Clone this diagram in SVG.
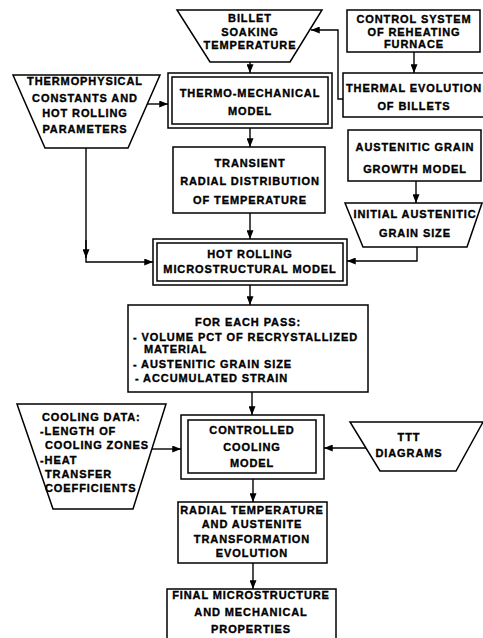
<svg xmlns="http://www.w3.org/2000/svg" width="483" height="638" viewBox="0 0 483 638">
<style>
.s{fill:#fff;stroke:#000;stroke-width:1.5}
.d{fill:none;stroke:#000;stroke-width:1.5}
.c{fill:none;stroke:#000;stroke-width:1.4}
text{font-family:"Liberation Sans",Arial,sans-serif;font-weight:bold;font-size:11px;letter-spacing:0.9px;fill:#000;stroke:#000;stroke-width:0.35}
.m{text-anchor:middle}
</style>
<defs>
<marker id="a" viewBox="0 0 10 8" refX="10" refY="4" markerWidth="10" markerHeight="7" markerUnits="userSpaceOnUse" orient="auto">
<path d="M0,0 L10,4 L0,8 Z" fill="#000"/>
</marker>
</defs>
<rect width="483" height="638" fill="#fff"/>

<g id="connectors" class="c">
<path d="M250,62 V73" marker-end="url(#a)"/>
<path d="M250,128 V147" marker-end="url(#a)"/>
<path d="M250,213 V239" marker-end="url(#a)"/>
<path d="M250,285 V305" marker-end="url(#a)"/>
<path d="M252,392 V415" marker-end="url(#a)"/>
<path d="M253,479 V502" marker-end="url(#a)"/>
<path d="M253,563 V589" marker-end="url(#a)"/>
<path d="M414,52 V73" marker-end="url(#a)"/>
<path d="M343,99 H338 V30 H311" marker-end="url(#a)"/>
<path d="M147,104 H168" marker-end="url(#a)"/>
<path d="M416,181 V203" marker-end="url(#a)"/>
<path d="M417,247 V261 H347" marker-end="url(#a)"/>
<path d="M86,148 V262 H153" marker-end="url(#a)"/>
<path d="M86,240 V258" marker-end="url(#a)"/>
<path d="M152,449 H181" marker-end="url(#a)"/>
<path d="M366,448 H324" marker-end="url(#a)"/>
</g>

<g id="billet">
<polygon class="s" points="177,10 322,10 290,62 210,62"/>
<text class="m" x="250" y="22">BILLET</text>
<text class="m" x="250" y="36">SOAKING</text>
<text class="m" x="250" y="49">TEMPERATURE</text>
</g>

<g id="control">
<rect class="s" x="347" y="10" width="133" height="42"/>
<text class="m" x="414" y="23">CONTROL SYSTEM</text>
<text class="m" x="414" y="36">OF REHEATING</text>
<text class="m" x="414" y="48">FURNACE</text>
</g>

<g id="thermophysical">
<polygon class="s" points="13,75 160,75 128,148 45,148"/>
<text class="m" x="85" y="85">THERMOPHYSICAL</text>
<text class="m" x="85" y="102">CONSTANTS AND</text>
<text class="m" x="85" y="117">HOT ROLLING</text>
<text class="m" x="85" y="133">PARAMETERS</text>
</g>

<g id="thermomechanical">
<rect class="s" x="168" y="73" width="164" height="55"/>
<rect class="d" x="172" y="77" width="156" height="47"/>
<text class="m" x="250" y="97">THERMO-MECHANICAL</text>
<text class="m" x="250" y="115">MODEL</text>
</g>

<g id="thermal">
<rect class="s" x="343" y="73" width="142" height="44"/>
<text class="m" x="414" y="92">THERMAL EVOLUTION</text>
<text class="m" x="414" y="110">OF BILLETS</text>
</g>

<g id="grain-growth">
<rect class="s" x="348" y="130" width="133" height="51"/>
<text class="m" x="415" y="151">AUSTENITIC GRAIN</text>
<text class="m" x="415" y="173">GROWTH MODEL</text>
</g>

<g id="transient">
<rect class="s" x="173" y="147" width="152" height="66"/>
<text class="m" x="250" y="167">TRANSIENT</text>
<text class="m" x="250" y="185">RADIAL DISTRIBUTION</text>
<text class="m" x="250" y="204">OF TEMPERATURE</text>
</g>

<g id="initial-grain">
<polygon class="s" points="345,203 482,203 467,247 363,247"/>
<text class="m" x="415" y="218">INITIAL AUSTENITIC</text>
<text class="m" x="415" y="237">GRAIN SIZE</text>
</g>

<g id="hot-rolling">
<rect class="s" x="153" y="239" width="194" height="46"/>
<rect class="d" x="157" y="243" width="186" height="38"/>
<text class="m" x="250" y="258">HOT ROLLING</text>
<text class="m" x="250" y="273">MICROSTRUCTURAL MODEL</text>
</g>

<g id="each-pass">
<rect class="s" x="128" y="305" width="240" height="87"/>
<text class="m" x="248" y="326">FOR EACH PASS:</text>
<text x="133" y="341">- VOLUME PCT OF RECRYSTALLIZED</text>
<text x="144" y="353">MATERIAL</text>
<text x="133" y="368">- AUSTENITIC GRAIN SIZE</text>
<text x="135" y="382">- ACCUMULATED STRAIN</text>
</g>

<g id="cooling-data">
<polygon class="s" points="17,404 166,404 133,509 53,509"/>
<text x="42" y="421">COOLING DATA:</text>
<text x="40" y="435">-LENGTH OF</text>
<text x="45" y="449">COOLING ZONES</text>
<text x="40" y="464">-HEAT</text>
<text x="45" y="478">TRANSFER</text>
<text x="45" y="492">COEFFICIENTS</text>
</g>

<g id="controlled-cooling">
<rect class="s" x="181" y="415" width="143" height="64"/>
<rect class="d" x="188" y="420" width="128" height="53"/>
<text class="m" x="252" y="434">CONTROLLED</text>
<text class="m" x="252" y="451">COOLING</text>
<text class="m" x="252" y="467">MODEL</text>
</g>

<g id="ttt">
<polygon class="s" points="350,422 483,422 456,471 380,471"/>
<text class="m" x="409" y="441">TTT</text>
<text class="m" x="409" y="457">DIAGRAMS</text>
</g>

<g id="radial">
<rect class="s" x="178" y="502" width="149" height="61"/>
<text class="m" x="252" y="514">RADIAL TEMPERATURE</text>
<text class="m" x="252" y="528">AND AUSTENITE</text>
<text class="m" x="252" y="543">TRANSFORMATION</text>
<text class="m" x="252" y="557">EVOLUTION</text>
</g>

<g id="final">
<rect class="s" x="167" y="589" width="169" height="60"/>
<text class="m" x="251" y="599">FINAL MICROSTRUCTURE</text>
<text class="m" x="251" y="616">AND MECHANICAL</text>
<text class="m" x="251" y="633">PROPERTIES</text>
</g>
</svg>
